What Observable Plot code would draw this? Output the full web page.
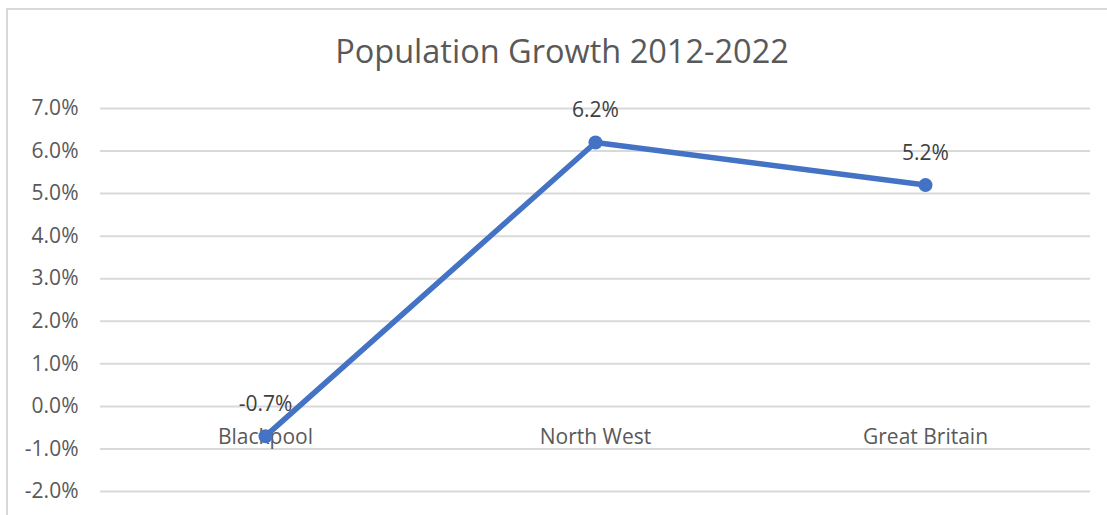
<!DOCTYPE html>
<html>
<head>
<meta charset="utf-8">
<script src="https://cdn.jsdelivr.net/npm/d3@7"></script>
<script src="https://cdn.jsdelivr.net/npm/@observablehq/plot@0.6"></script>
<style>
  html, body { margin: 0; padding: 0; background: #fff; }
  #wrap { position: relative; width: 1107px; height: 515px; overflow: hidden; font-family: "Open Sans", sans-serif; }
  #frame { position: absolute; left: 6px; top: 8px; right: -10px; bottom: -10px; border-left: 2px solid #d9d9d9; border-top: 2px solid #d9d9d9; }
  #title { position: absolute; left: 0; top: 35px; width: 1107px; padding-left: 17px; box-sizing: border-box; text-align: center; font-size: 32.5px; line-height: 32px; color: #595959; }
  #chart { position: absolute; left: 0; top: 85px; }
</style>
</head>
<body>
<div id="wrap">
  <div id="frame"></div>
  <div id="title">Population Growth 2012-2022</div>
  <div id="chart"></div>
</div>
<script>
const categories = ["Blackpool", "North West", "Great Britain"];
const growth = [-0.007, 0.062, 0.052];
const growthLabels = ["-0.7%", "6.2%", "5.2%"];
const yTicks = [-0.02, -0.01, 0, 0.01, 0.02, 0.03, 0.04, 0.05, 0.06, 0.07];

const data = categories.map((c, i) => ({region: c, value: growth[i], label: growthLabels[i]}));
const fmt = d => (d * 100).toFixed(1) + "%";

const chart = Plot.plot({
  width: 1107,
  height: 430,
  marginLeft: 100,
  marginRight: 17,
  marginTop: 23,
  marginBottom: 24,
  style: {fontFamily: "Open Sans, sans-serif", fontSize: "21px", color: "#595959", background: "transparent"},
  x: {type: "point", domain: categories, padding: 0.5, axis: null},
  y: {domain: [-0.02, 0.07], axis: null},
  marks: [
    Plot.gridY(yTicks, {stroke: "#d9d9d9", strokeOpacity: 1, strokeWidth: 2}),
    Plot.axisY(yTicks, {tickSize: 0, tickPadding: 22, tickFormat: fmt, fill: "#595959", fontSize: 21, label: null}),
    Plot.text(categories, {x: d => d, y: () => 0, text: d => d, dy: 31, fill: "#595959", fontSize: 21}),
    Plot.text(data, {x: "region", y: "value", text: "label", dy: -32, fill: "#404040", fontSize: 21}),
    Plot.line(data, {x: "region", y: "value", stroke: "#4472C4", strokeWidth: 5.5}),
    Plot.dot(data, {x: "region", y: "value", r: 7, fill: "#4472C4", stroke: "none"})
  ]
});
document.getElementById("chart").appendChild(chart);
</script>
</body>
</html>
